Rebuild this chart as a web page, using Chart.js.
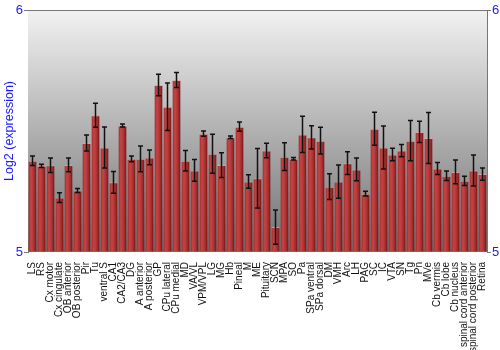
<!DOCTYPE html>
<html>
<head>
<meta charset="utf-8">
<script src="https://cdn.jsdelivr.net/npm/chart.js@4"></script>
<style>
  html, body { margin: 0; padding: 0; background: #fff; }
  #wrap { width: 500px; height: 350px; }
</style>
</head>
<body>
<div id="wrap"><canvas id="chart"></canvas></div>
<script>
// regions (x axis)
const regions = ['LS', 'RS', 'Cx motor', 'Cx cingulate', 'OB anterior', 'OB posterior', 'Pir', 'Tu',
    'ventral S', 'CA1', 'CA2/CA3', 'DG', 'A anterior', 'A posterior', 'GP', 'CPu lateral', 'CPu medial',
    'MD', 'VA/VL', 'VPM/VPL', 'LG', 'MG', 'Hb', 'Pineal', 'M', 'ME', 'Pituitary', 'SCN', 'MPA', 'SO',
    'Pa', 'SPa ventral', 'SPa dorsal', 'DM', 'VMH', 'Arc', 'LH', 'PAG', 'SC', 'IC', 'VTA', 'SN', 'Tg',
    'Pn', 'MVe', 'Cb vermis', 'Cb lobe', 'Cb nucleus', 'spinal cord anterior', 'spinal cord posterior', 'Retina'];

// log2 expression
const expression = [5.377, 5.356, 5.358, 5.225, 5.360, 5.254, 5.450, 5.565,
    5.432, 5.288, 5.523, 5.385, 5.385, 5.391, 5.690, 5.600, 5.711,
    5.377, 5.337, 5.489, 5.406, 5.359, 5.474, 5.518, 5.291, 5.305, 5.419, 5.103, 5.394, 5.385,
    5.486, 5.474, 5.460, 5.270, 5.291, 5.367, 5.341, 5.241, 5.509, 5.432, 5.403, 5.419, 5.460,
    5.496, 5.471, 5.345, 5.315, 5.331, 5.294, 5.337, 5.322];

// +/- error
const errors = [0.020, 0.007, 0.030, 0.020, 0.028, 0.008, 0.033, 0.050,
    0.085, 0.045, 0.006, 0.012, 0.053, 0.030, 0.044, 0.098, 0.031,
    0.042, 0.045, 0.011, 0.081, 0.051, 0.005, 0.019, 0.028, 0.123, 0.030, 0.071, 0.057, 0.005,
    0.075, 0.048, 0.055, 0.053, 0.069, 0.047, 0.047, 0.010, 0.068, 0.089, 0.026, 0.025, 0.083,
    0.044, 0.105, 0.025, 0.020, 0.049, 0.019, 0.064, 0.025];

const yTicks = [5, 6];

const BLUE = '#1a1aff';
const AXIS_GRAY = '#777777';

// gray gradient behind the plot + top border
const backgroundPlugin = {
    id: 'plotBackground',
    beforeDatasetsDraw(chart) {
        const { ctx, chartArea: a } = chart;
        const g = ctx.createLinearGradient(0, a.top, 0, a.bottom);
        g.addColorStop(0, '#f2f2f2');
        g.addColorStop(1, '#707070');
        ctx.save();
        ctx.fillStyle = g;
        ctx.fillRect(a.left, a.top, a.right - a.left, a.bottom - a.top);
        ctx.strokeStyle = AXIS_GRAY;
        ctx.lineWidth = 1;
        ctx.beginPath();
        ctx.moveTo(a.left, a.top + 0.5);
        ctx.lineTo(a.right, a.top + 0.5);
        ctx.stroke();
        ctx.restore();
    }
};

// error bars drawn on top of the bars
const errorBarPlugin = {
    id: 'errorBars',
    afterDatasetsDraw(chart) {
        const { ctx } = chart;
        const y = chart.scales.y;
        const meta = chart.getDatasetMeta(0);
        ctx.save();
        ctx.strokeStyle = '#111111';
        ctx.lineWidth = 1.5;
        meta.data.forEach((bar, i) => {
            const top = y.getPixelForValue(expression[i] + errors[i]);
            const bottom = y.getPixelForValue(expression[i] - errors[i]);
            ctx.beginPath();
            ctx.moveTo(bar.x, top);
            ctx.lineTo(bar.x, bottom);
            ctx.moveTo(bar.x - 2.5, top);
            ctx.lineTo(bar.x + 2.5, top);
            ctx.moveTo(bar.x - 2.5, bottom);
            ctx.lineTo(bar.x + 2.5, bottom);
            ctx.stroke();
        });
        ctx.restore();
    }
};

function barGradient(context) {
    const chart = context.chart;
    if (!chart.chartArea) return '#b33';
    const x = chart.scales.x.getPixelForValue(context.dataIndex);
    const g = chart.ctx.createLinearGradient(x - 4, 0, x + 4, 0);
    g.addColorStop(0, '#a02c2c');
    g.addColorStop(0.3, '#c84444');
    g.addColorStop(0.7, '#a83030');
    g.addColorStop(1, '#6a1414');
    return g;
}

const config = {
    type: 'bar',
    data: {
        labels: regions,
        datasets: [{
            data: expression,
            base: 5,
            backgroundColor: barGradient,
            borderColor: 'rgba(235,160,160,0.8)',
            borderWidth: { top: 1, left: 0, right: 0, bottom: 0 },
            borderSkipped: false,
            categoryPercentage: 1,
            barPercentage: 0.9
        }]
    },
    options: {
        responsive: true,
        maintainAspectRatio: false,
        animation: false,
        layout: { padding: { top: 10, left: 2, right: 0, bottom: 0 } },
        plugins: {
            legend: { display: false },
            tooltip: { enabled: false }
        },
        scales: {
            x: {
                offset: true,
                grid: { display: false },
                border: { display: false },
                ticks: {
                    autoSkip: false,
                    minRotation: 90,
                    maxRotation: 90,
                    padding: 2,
                    color: '#111',
                    font: { family: 'Liberation Sans', size: 10 }
                },
                afterFit(scale) { scale.height = 98; }
            },
            y: {
                position: 'left',
                min: 5,
                max: 6,
                afterBuildTicks(scale) { scale.ticks = yTicks.map(v => ({ value: v })); },
                grid: { drawOnChartArea: false, tickLength: 4, color: AXIS_GRAY },
                border: { color: AXIS_GRAY },
                ticks: {
                    padding: 1,
                    color: BLUE,
                    font: { family: 'Liberation Sans', size: 13 }
                },
                title: {
                    display: true,
                    text: 'Log2 (expression)',
                    color: BLUE,
                    padding: 0,
                    font: { family: 'Liberation Sans', size: 12.5 }
                },
                afterFit(scale) { scale.width = 26; }
            },
            y2: {
                position: 'right',
                min: 5,
                max: 6,
                afterBuildTicks(scale) { scale.ticks = yTicks.map(v => ({ value: v })); },
                grid: { drawOnChartArea: false, tickLength: 4, color: AXIS_GRAY },
                border: { color: AXIS_GRAY },
                ticks: {
                    padding: 1,
                    color: BLUE,
                    font: { family: 'Liberation Sans', size: 13 }
                },
                afterFit(scale) { scale.width = 13; }
            }
        }
    },
    plugins: [backgroundPlugin, errorBarPlugin]
};

new Chart(document.getElementById('chart').getContext('2d'), config);
</script>
</body>
</html>
